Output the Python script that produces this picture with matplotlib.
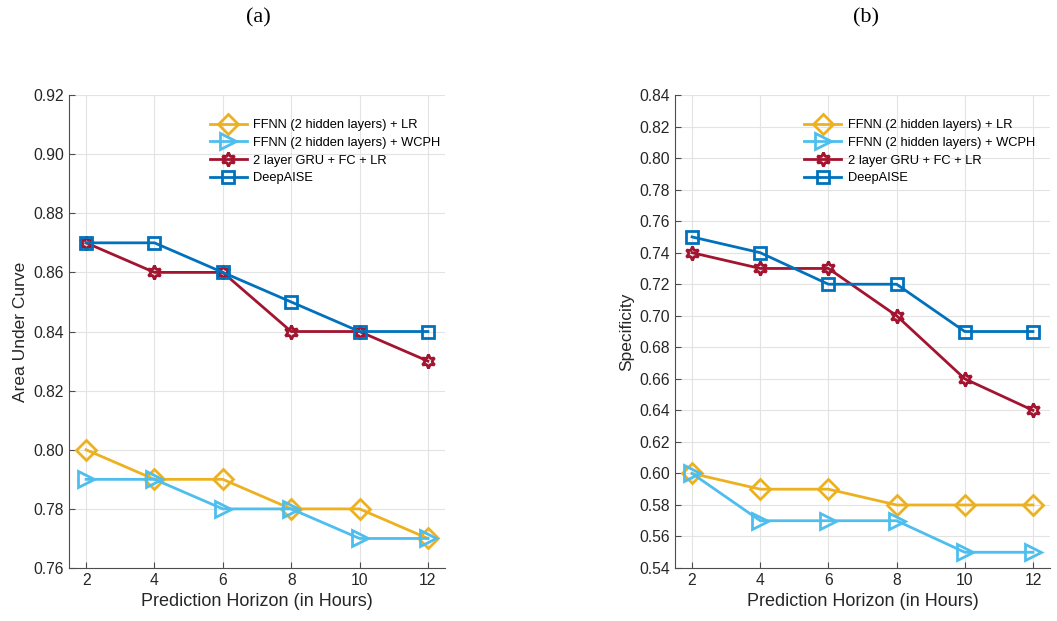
import matplotlib

matplotlib.use("Agg")

import matplotlib.pyplot as plt
import numpy as np

horizons = [2, 4, 6, 8, 10, 12]

series_names = [
    "FFNN (2 hidden layers) + LR",
    "FFNN (2 hidden layers) + WCPH",
    "2 layer GRU + FC + LR",
    "DeepAISE",
]

auc_ffnn_lr   = [0.80, 0.79, 0.79, 0.78, 0.78, 0.77]
auc_ffnn_wcph = [0.79, 0.79, 0.78, 0.78, 0.77, 0.77]
auc_gru       = [0.87, 0.86, 0.86, 0.84, 0.84, 0.83]
auc_deepaise  = [0.87, 0.87, 0.86, 0.85, 0.84, 0.84]

spec_ffnn_lr   = [0.60, 0.59, 0.59, 0.58, 0.58, 0.58]
spec_ffnn_wcph = [0.60, 0.57, 0.57, 0.57, 0.55, 0.55]
spec_gru       = [0.74, 0.73, 0.73, 0.70, 0.66, 0.64]
spec_deepaise  = [0.75, 0.74, 0.72, 0.72, 0.69, 0.69]

STYLES = [
    dict(color="#EDB120", marker="D", markersize=10),
    dict(color="#4DBEEE", marker=">", markersize=11),
    dict(color="#A2142F", marker=(6, 1, 0), markersize=10),
    dict(color="#0072BD", marker="s", markersize=8.5),
]

plt.rcParams.update({
    "font.family": ["Liberation Sans", "DejaVu Sans"],
    "axes.edgecolor": "#4d4d4d",
    "xtick.color": "#4d4d4d",
    "ytick.color": "#4d4d4d",
    "xtick.labelcolor": "#262626",
    "ytick.labelcolor": "#262626",
    "xtick.direction": "in",
    "ytick.direction": "in",
})


def draw_panel(axis, values, ylabel, yticks, legend_x):
    for name, data, style in zip(series_names, values, STYLES):
        axis.plot(horizons, data, label=name, linewidth=2.0, color=style["color"],
                  marker=style["marker"], markersize=style["markersize"],
                  markerfacecolor="none", markeredgewidth=2.0)
    axis.set_xlim(1.5, 12.5)
    axis.set_ylim(yticks[0], yticks[-1])
    axis.set_xticks(horizons)
    axis.set_yticks(yticks)
    axis.set_yticklabels([f"{t:.2f}" for t in yticks])
    axis.tick_params(labelsize=11.3, length=4, width=0.8)
    axis.grid(True, color="#e3e3e3", linewidth=0.8)
    axis.set_axisbelow(True)
    for side in ("top", "right"):
        axis.spines[side].set_visible(False)
    axis.set_xlabel("Prediction Horizon (in Hours)", fontsize=13, color="#262626")
    axis.set_ylabel(ylabel, fontsize=12.5, color="#262626")
    legend = axis.legend(loc="upper left", bbox_to_anchor=(legend_x, 0.96), frameon=False,
                         fontsize=9.3, handlelength=2.9, handletextpad=0.5, labelspacing=0.44,
                         borderaxespad=0.0)
    legend.set_clip_on(False)


figure = plt.figure(figsize=(10.57, 6.21), dpi=100)
left_axis  = figure.add_axes([0.0653, 0.0853, 0.3557, 0.7617])
right_axis = figure.add_axes([0.6386, 0.0853, 0.3548, 0.7617])

draw_panel(left_axis, [auc_ffnn_lr, auc_ffnn_wcph, auc_gru, auc_deepaise],
           "Area Under Curve", np.round(np.arange(0.76, 0.9201, 0.02), 2), 0.36)
draw_panel(right_axis, [spec_ffnn_lr, spec_ffnn_wcph, spec_gru, spec_deepaise],
           "Specificity", np.round(np.arange(0.54, 0.8401, 0.02), 2), 0.33)

figure.text(258 / 1057, 1 - 18 / 621, "(a)", ha="center", va="center",
            fontsize=16, family="Liberation Serif")
figure.text(866 / 1057, 1 - 18 / 621, "(b)", ha="center", va="center",
            fontsize=16, family="Liberation Serif")

figure.savefig("out.png", dpi=100)
